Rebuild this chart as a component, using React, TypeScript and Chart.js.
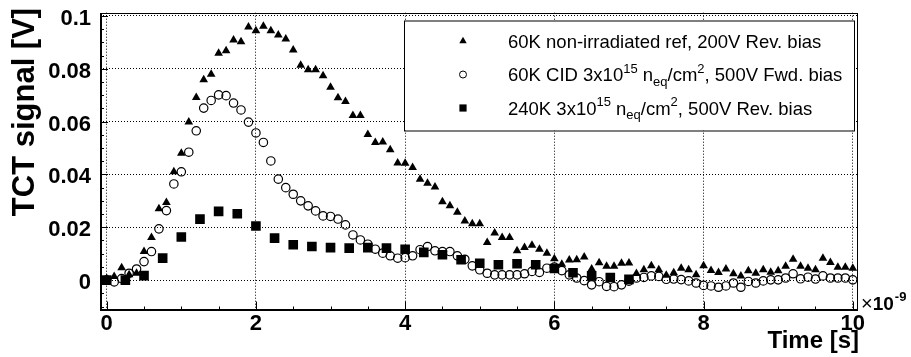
import React, { useEffect, useRef } from 'react';
import { Chart, registerables } from 'chart.js';

Chart.register(...registerables);

const FONT = '"Liberation Sans", Arial, Helvetica, sans-serif';

// Sample times (ns)
const TIME_FINE = [
  0, 0.1, 0.2, 0.3, 0.4, 0.5, 0.6, 0.7, 0.8, 0.9,
  1, 1.1, 1.2, 1.3, 1.4, 1.5, 1.6, 1.7, 1.8, 1.9,
  2, 2.1, 2.2, 2.3, 2.4, 2.5, 2.6, 2.7, 2.8, 2.9,
  3, 3.1, 3.2, 3.3, 3.4, 3.5, 3.6, 3.7, 3.8, 3.9,
  4, 4.1, 4.2, 4.3, 4.4, 4.5, 4.6, 4.7, 4.8, 4.9,
  5, 5.1, 5.2, 5.3, 5.4, 5.5, 5.6, 5.7, 5.8, 5.9,
  6, 6.1, 6.2, 6.3, 6.4, 6.5, 6.6, 6.7, 6.8, 6.9,
  7, 7.1, 7.2, 7.3, 7.4, 7.5, 7.6, 7.7, 7.8, 7.9,
  8, 8.1, 8.2, 8.3, 8.4, 8.5, 8.6, 8.7, 8.8, 8.9,
  9, 9.1, 9.2, 9.3, 9.4, 9.5, 9.6, 9.7, 9.8, 9.9,
  10,
];

// 60K non-irradiated ref, 200V Rev. bias (triangles)
const SIGNAL_60K_REF = [
  0.0006, 0.0014, 0.0047, 0.0020, 0.0026, 0.0108, 0.0161, 0.0270, 0.0294, 0.0410,
  0.0480, 0.0598, 0.0691, 0.0758, 0.0779, 0.0859, 0.0868, 0.0909, 0.0902, 0.0958,
  0.0944, 0.0961, 0.0944, 0.0928, 0.0912, 0.0871, 0.0813, 0.0796, 0.0796, 0.0773,
  0.0730, 0.0690, 0.0676, 0.0623, 0.0623, 0.0551, 0.0521, 0.0523, 0.0493, 0.0443,
  0.0442, 0.0426, 0.0382, 0.0367, 0.0352, 0.0297, 0.0281, 0.0257, 0.0224, 0.0213,
  0.0213, 0.0142, 0.0178, 0.0161, 0.0161, 0.0111, 0.0123, 0.0132, 0.0117, 0.0102,
  0.0081, 0.0060, 0.0076, 0.0077, 0.0087, 0.0042, 0.0066, 0.0052, 0.0052, 0.0064,
  0.0065, 0.0025, 0.0039, 0.0054, 0.0039, 0.0018, 0.0028, 0.0045, 0.0039, 0.0020,
  0.0054, 0.0036, 0.0029, 0.0042, 0.0024, 0.0016, 0.0035, 0.0026, 0.0039, 0.0030,
  0.0035, 0.0052, 0.0079, 0.0052, 0.0045, 0.0039, 0.0083, 0.0067, 0.0049, 0.0049,
  0.0045,
];

// 60K CID 3e15, 500V Fwd. bias (open circles)
const SIGNAL_60K_CID = [
  0.0000, -0.0007, 0.0006, 0.0026, 0.0042, 0.0070, 0.0108, 0.0194, 0.0263, 0.0364,
  0.0410, 0.0484, 0.0565, 0.0651, 0.0680, 0.0701, 0.0698, 0.0670, 0.0644, 0.0598,
  0.0557, 0.0521, 0.0451, 0.0382, 0.0350, 0.0325, 0.0300, 0.0281, 0.0262, 0.0243,
  0.0241, 0.0231, 0.0209, 0.0171, 0.0152, 0.0136, 0.0117, 0.0102, 0.0092, 0.0083,
  0.0085, 0.0092, 0.0115, 0.0127, 0.0111, 0.0108, 0.0108, 0.0092, 0.0079, 0.0054,
  0.0039, 0.0026, 0.0020, 0.0020, 0.0020, 0.0020, 0.0024, 0.0033, 0.0029, 0.0045,
  0.0049, 0.0036, 0.0020, 0.0008, -0.0002, -0.0018, -0.0006, -0.0024, -0.0025, -0.0018,
  -0.0004, 0.0008, 0.0010, 0.0016, 0.0014, 0.0003, 0.0004, 0.0002, -0.0003, -0.0011,
  -0.0020, -0.0022, -0.0027, -0.0022, -0.0011, -0.0027, -0.0005, -0.0011, -0.0003, 0.0001,
  0.0001, 0.0008, 0.0024, 0.0005, 0.0011, 0.0004, 0.0016, 0.0008, 0.0008, 0.0008,
  0.0001,
];

const TIME_COARSE = [
  0, 0.25, 0.5, 0.75, 1, 1.25, 1.5, 1.75, 2, 2.25, 2.5, 2.75, 3, 3.25, 3.5,
  3.75, 4, 4.25, 4.5, 4.75, 5, 5.25, 5.5, 5.75, 6, 6.25, 6.5, 6.75, 7,
];

// 240K 3e15, 500V Rev. bias (filled squares)
const SIGNAL_240K = [
  0.0000, 0.0000, 0.0017, 0.0083, 0.0163, 0.0231, 0.0260, 0.0251, 0.0205, 0.0159,
  0.0134, 0.0127, 0.0123, 0.0121, 0.0123, 0.0121, 0.0117, 0.0105, 0.0096, 0.0077,
  0.0064, 0.0058, 0.0062, 0.0058, 0.0044, 0.0028, 0.0016, 0.0010, 0.0003,
];

const X_TICKS = [0, 2, 4, 6, 8, 10];
const X_TICK_LABELS = ['0', '2', '4', '6', '8', '10'];
const Y_TICKS = [0, 0.02, 0.04, 0.06, 0.08, 0.1];
const Y_TICK_LABELS = ['0', '0.02', '0.04', '0.06', '0.08', '0.1'];

const X_TITLE = 'Time [s]';
const Y_TITLE = 'TCT signal [V]';

type Seg = { t: string; s?: 'sup' | 'sub' };
const LEGEND_LABELS: Seg[][] = [
  [{ t: '60K non-irradiated ref, 200V Rev. bias' }],
  [
    { t: '60K CID 3x10' }, { t: '15', s: 'sup' }, { t: ' n' }, { t: 'eq', s: 'sub' },
    { t: '/cm' }, { t: '2', s: 'sup' }, { t: ', 500V Fwd. bias' },
  ],
  [
    { t: '240K 3x10' }, { t: '15', s: 'sup' }, { t: ' n' }, { t: 'eq', s: 'sub' },
    { t: '/cm' }, { t: '2', s: 'sup' }, { t: ', 500V Rev. bias' },
  ],
];
const LEGEND_MARKERS = ['triangle', 'circle', 'rect'];

function drawMarker(ctx: CanvasRenderingContext2D, kind: string, x: number, y: number) {
  ctx.save();
  ctx.fillStyle = '#000';
  ctx.strokeStyle = '#000';
  ctx.lineWidth = 1;
  ctx.beginPath();
  if (kind === 'triangle') {
    const r = 4.3;
    ctx.moveTo(x, y - r);
    ctx.lineTo(x + r * 0.866, y + r * 0.5);
    ctx.lineTo(x - r * 0.866, y + r * 0.5);
    ctx.closePath();
    ctx.fill();
  } else if (kind === 'circle') {
    ctx.arc(x, y, 3.5, 0, Math.PI * 2);
    ctx.stroke();
  } else {
    ctx.rect(x - 3.6, y - 3.6, 7.2, 7.2);
    ctx.fill();
  }
  ctx.restore();
}

function drawRich(ctx: CanvasRenderingContext2D, segs: Seg[], x: number, y: number, size: number) {
  let cx = x;
  for (const seg of segs) {
    const small = seg.s ? Math.round(size * 0.68) : size;
    ctx.font = `${small}px ${FONT}`;
    const dy = seg.s === 'sup' ? -size * 0.45 : seg.s === 'sub' ? size * 0.25 : 0;
    ctx.fillText(seg.t, cx, y + dy);
    cx += ctx.measureText(seg.t).width;
  }
}

const decorPlugin = {
  id: 'rootDecor',
  afterDraw(chart: any) {
    const ctx: CanvasRenderingContext2D = chart.ctx;
    const { left, right, top, bottom } = chart.chartArea;
    const xs = chart.scales.x;
    const ys = chart.scales.y;
    ctx.save();
    ctx.strokeStyle = '#000';
    ctx.fillStyle = '#000';

    // frame
    ctx.lineWidth = 1;
    ctx.strokeRect(Math.round(left) + 0.5, Math.round(top) + 0.5, Math.round(right - left) - 1, Math.round(bottom - top) - 1);
    ctx.lineWidth = 2;
    ctx.beginPath();
    ctx.moveTo(Math.round(left) + 1, Math.round(top));
    ctx.lineTo(Math.round(left) + 1, Math.round(bottom));
    ctx.moveTo(Math.round(left), Math.round(bottom) - 1);
    ctx.lineTo(Math.round(right), Math.round(bottom) - 1);
    ctx.stroke();

    // ticks (inside)
    ctx.lineWidth = 1;
    ctx.beginPath();
    for (let k = 0; k <= 20; k++) {
      const v = k * 0.5;
      const px = Math.round(xs.getPixelForValue(v)) + 0.5;
      const len = k % 4 === 0 ? 9 : 4;
      ctx.moveTo(px, bottom);
      ctx.lineTo(px, bottom - len);
    }
    for (let k = -2; k <= 20; k++) {
      const v = k * 0.005;
      const py = Math.round(ys.getPixelForValue(v)) + 0.5;
      const len = k % 4 === 0 ? 8 : 4;
      ctx.moveTo(left, py);
      ctx.lineTo(left + len, py);
    }
    ctx.stroke();

    // legend box
    const lx = 404, ly = 20.5, lw = 450, lh = 110;
    ctx.fillStyle = '#fff';
    ctx.fillRect(lx, ly, lw, lh);
    ctx.strokeStyle = '#000';
    ctx.lineWidth = 1;
    ctx.strokeRect(lx + 0.5, ly + 0.5, lw, lh);
    ctx.fillStyle = '#000';
    ctx.textBaseline = 'alphabetic';
    ctx.textAlign = 'left';
    const rowY = [41, 74.5, 108];
    LEGEND_LABELS.forEach((segs, i) => {
      drawMarker(ctx, LEGEND_MARKERS[i], 463, rowY[i]);
      drawRich(ctx, segs, 508, rowY[i] + 6.5, 18.5);
    });

    // axis titles
    ctx.fillStyle = '#000';
    ctx.font = `bold 24px ${FONT}`;
    ctx.textAlign = 'right';
    ctx.fillText(X_TITLE, 859, 348);

    ctx.save();
    ctx.translate(34, 112);
    ctx.rotate(-Math.PI / 2);
    ctx.textAlign = 'center';
    ctx.font = `bold 31px ${FONT}`;
    ctx.fillText(Y_TITLE, 0, 0);
    ctx.restore();

    // x10^-9 exponent
    ctx.textAlign = 'left';
    ctx.font = `20px ${FONT}`;
    ctx.fillText('\u00d7', 861, 310);
    let w = ctx.measureText('\u00d7').width;
    ctx.font = `bold 19px ${FONT}`;
    ctx.fillText('10', 861 + w, 310);
    w += ctx.measureText('10').width;
    ctx.font = `bold 13px ${FONT}`;
    ctx.fillText('-9', 861 + w + 1, 301);

    ctx.restore();
  },
};

export default function App() {
  const ref = useRef<HTMLCanvasElement | null>(null);

  useEffect(() => {
    if (!ref.current) return;
    const tickFont = { family: FONT, size: 22, weight: 'bold' as const };
    const chart = new Chart(ref.current, {
      type: 'scatter',
      data: {
        datasets: [
          {
            label: '60K non-irradiated ref, 200V Rev. bias',
            data: TIME_FINE.map((t, i) => ({ x: t, y: SIGNAL_60K_REF[i] })),
            pointStyle: 'triangle',
            pointRadius: 5,
            backgroundColor: '#000',
            borderColor: '#000',
            borderWidth: 0,
            showLine: false,
            order: 2,
          },
          {
            label: '60K CID',
            data: TIME_FINE.map((t, i) => ({ x: t, y: SIGNAL_60K_CID[i] })),
            pointStyle: 'circle',
            pointRadius: 4.2,
            backgroundColor: 'rgba(0,0,0,0)',
            borderColor: '#000',
            borderWidth: 1.2,
            showLine: false,
            order: 1,
          },
          {
            label: '240K',
            data: TIME_COARSE.map((t, i) => ({ x: t, y: SIGNAL_240K[i] })),
            pointStyle: 'rect',
            pointRadius: 6.8,
            backgroundColor: '#000',
            borderColor: '#000',
            borderWidth: 0,
            showLine: false,
            order: 0,
          },
        ],
      },
      options: {
        responsive: false,
        animation: false,
        devicePixelRatio: 1,
        events: [],
        layout: { padding: { left: 0, right: 53, top: 12.7, bottom: 0 } },
        plugins: { legend: { display: false }, tooltip: { enabled: false }, title: { display: false } },
        scales: {
          x: {
            type: 'linear',
            position: 'bottom',
            min: -0.09,
            max: 10.07,
            afterBuildTicks: (s: any) => {
              s.ticks = X_TICKS.map((v) => ({ value: v }));
            },
            afterFit: (s: any) => {
              s.height = 46.5;
              s.paddingLeft = 0;
              s.paddingRight = 0;
            },
            ticks: {
              callback: (v: any) => X_TICK_LABELS[X_TICKS.indexOf(Number(v))] ?? '',
              font: tickFont,
              color: '#000',
              padding: 0,
              maxRotation: 0,
              minRotation: 0,
              autoSkip: false,
            },
            grid: { color: '#000', lineWidth: 1, drawTicks: false },
            border: { display: false, dash: [1, 2] },
          },
          y: {
            type: 'linear',
            min: -0.0115,
            max: 0.1012,
            afterBuildTicks: (s: any) => {
              s.ticks = Y_TICKS.map((v) => ({ value: v }));
            },
            afterFit: (s: any) => {
              s.width = 100;
              s.paddingTop = 0;
              s.paddingBottom = 0;
            },
            ticks: {
              callback: (v: any) => {
                const idx = Y_TICKS.findIndex((t) => Math.abs(t - Number(v)) < 1e-9);
                return idx >= 0 ? Y_TICK_LABELS[idx] : '';
              },
              font: tickFont,
              color: '#000',
              padding: 9,
              labelOffset: 3,
              autoSkip: false,
            },
            grid: { color: '#000', lineWidth: 1, drawTicks: false },
            border: { display: false, dash: [1, 2] },
          },
        },
      },
      plugins: [decorPlugin],
    } as any);
    return () => chart.destroy();
  }, []);

  return (
    <div style={{ position: 'fixed', left: 0, top: 0, width: 911, height: 357, background: '#fff' }}>
      <canvas ref={ref} width={911} height={357} style={{ display: 'block', width: 911, height: 357 }} />
    </div>
  );
}
